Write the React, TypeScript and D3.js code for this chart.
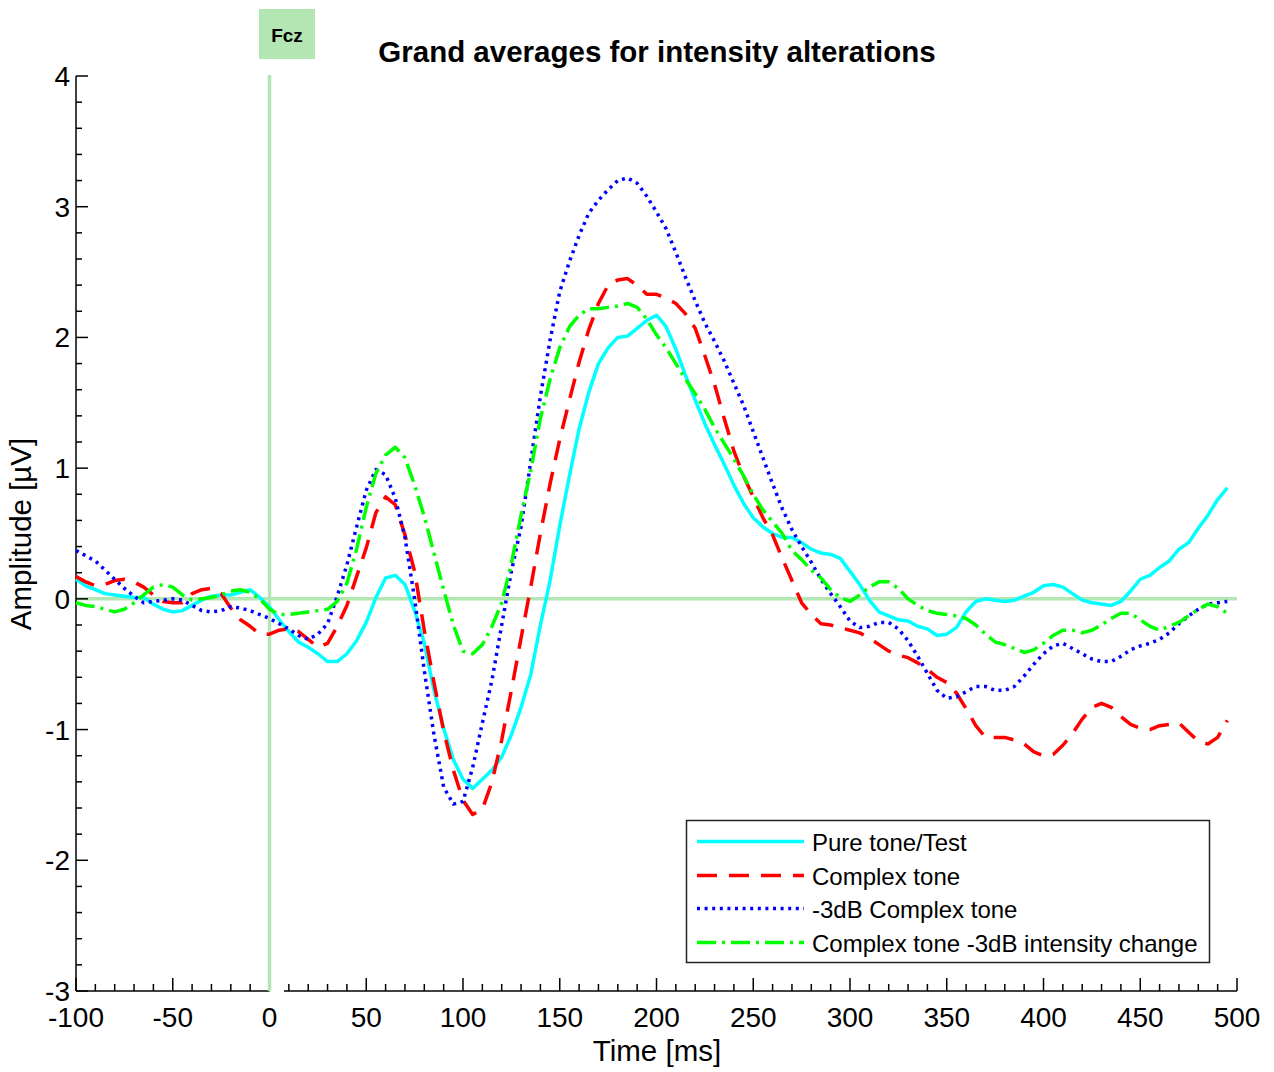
import React from "react";
import * as d3 from "d3";

// Sampling grid of the averaged epochs (ms)
const TIME_START = -100;
const TIME_STEP = 5;

// Grand-average amplitudes (µV), one value per sample
const pureTone = [
  0.15, 0.10, 0.07, 0.04, 0.03, 0.02, 0.01, 0.01, -0.04, -0.08,
  -0.10, -0.09, -0.05, -0.01, 0.02, 0.03, 0.03, 0.05, 0.07, 0.01,
  -0.06, -0.16, -0.25, -0.33, -0.37, -0.42, -0.48, -0.48, -0.42, -0.32,
  -0.18, 0.01, 0.16, 0.18, 0.11, -0.09, -0.34, -0.70, -0.99, -1.23,
  -1.38, -1.45, -1.38, -1.31, -1.21, -1.04, -0.83, -0.58, -0.20, 0.14,
  0.56, 0.94, 1.30, 1.58, 1.80, 1.92, 2.00, 2.01, 2.07, 2.13,
  2.17, 2.08, 1.91, 1.71, 1.52, 1.34, 1.18, 1.03, 0.87, 0.73,
  0.62, 0.55, 0.50, 0.47, 0.47, 0.43, 0.38, 0.35, 0.34, 0.31,
  0.21, 0.11, -0.01, -0.10, -0.13, -0.16, -0.17, -0.21, -0.23, -0.28,
  -0.27, -0.22, -0.10, -0.02, 0.00, -0.01, -0.02, -0.01, 0.02, 0.05,
  0.10, 0.11, 0.09, 0.04, -0.01, -0.03, -0.04, -0.05, -0.02, 0.06,
  0.15, 0.18, 0.24, 0.29, 0.38, 0.43, 0.54, 0.64, 0.76, 0.85,
];

const complexTone = [
  0.17, 0.13, 0.10, 0.11, 0.14, 0.15, 0.13, 0.09, 0.03, -0.02,
  -0.03, -0.03, 0.04, 0.07, 0.08, 0.04, -0.07, -0.16, -0.21, -0.27,
  -0.27, -0.24, -0.23, -0.25, -0.31, -0.37, -0.34, -0.21, -0.05, 0.17,
  0.39, 0.66, 0.78, 0.72, 0.49, 0.21, -0.24, -0.64, -1.01, -1.31,
  -1.54, -1.65, -1.61, -1.40, -1.08, -0.70, -0.30, 0.09, 0.50, 0.88,
  1.22, 1.52, 1.81, 2.06, 2.26, 2.40, 2.44, 2.45, 2.40, 2.33,
  2.33, 2.30, 2.26, 2.18, 2.07, 1.86, 1.64, 1.38, 1.13, 0.94,
  0.78, 0.62, 0.49, 0.31, 0.14, -0.03, -0.12, -0.19, -0.20, -0.22,
  -0.24, -0.26, -0.30, -0.35, -0.40, -0.43, -0.45, -0.49, -0.54, -0.60,
  -0.64, -0.72, -0.84, -0.97, -1.06, -1.06, -1.06, -1.08, -1.11, -1.17,
  -1.20, -1.19, -1.12, -1.03, -0.92, -0.83, -0.80, -0.83, -0.90, -0.96,
  -0.99, -1.00, -0.97, -0.96, -0.95, -1.02, -1.09, -1.11, -1.06, -0.93,
];

const complexToneMinus3dB = [
  0.37, 0.33, 0.29, 0.22, 0.15, 0.08, 0.02, -0.03, -0.02, -0.01,
  0.00, -0.01, -0.05, -0.09, -0.10, -0.09, -0.06, -0.07, -0.09, -0.12,
  -0.15, -0.19, -0.23, -0.28, -0.31, -0.27, -0.19, 0.02, 0.26, 0.55,
  0.83, 0.99, 0.95, 0.77, 0.47, 0.00, -0.55, -1.04, -1.44, -1.57,
  -1.55, -1.29, -0.95, -0.62, -0.20, 0.21, 0.55, 1.05, 1.55, 1.98,
  2.35, 2.58, 2.78, 2.95, 3.05, 3.13, 3.20, 3.22, 3.18, 3.08,
  2.96, 2.83, 2.65, 2.46, 2.28, 2.11, 1.97, 1.82, 1.65, 1.48,
  1.28, 1.08, 0.88, 0.69, 0.53, 0.40, 0.28, 0.15, 0.04, -0.06,
  -0.17, -0.22, -0.21, -0.18, -0.18, -0.23, -0.32, -0.44, -0.57, -0.70,
  -0.76, -0.75, -0.71, -0.67, -0.67, -0.70, -0.70, -0.67, -0.59, -0.50,
  -0.42, -0.36, -0.34, -0.38, -0.42, -0.46, -0.48, -0.48, -0.44, -0.39,
  -0.36, -0.34, -0.31, -0.26, -0.19, -0.13, -0.08, -0.04, -0.03, -0.02,
];

const intensityChange = [
  -0.03, -0.05, -0.06, -0.08, -0.10, -0.08, -0.03, 0.03, 0.09, 0.11,
  0.09, 0.03, -0.01, 0.00, 0.01, 0.03, 0.06, 0.07, 0.05, 0.00,
  -0.08, -0.12, -0.12, -0.11, -0.10, -0.09, -0.08, -0.02, 0.12, 0.38,
  0.70, 0.96, 1.10, 1.16, 1.08, 0.87, 0.63, 0.35, 0.07, -0.20,
  -0.40, -0.42, -0.35, -0.21, -0.03, 0.27, 0.64, 0.98, 1.38, 1.68,
  1.92, 2.08, 2.17, 2.22, 2.22, 2.23, 2.24, 2.26, 2.23, 2.14,
  2.02, 1.92, 1.80, 1.68, 1.57, 1.45, 1.31, 1.19, 1.07, 0.94,
  0.80, 0.68, 0.59, 0.50, 0.37, 0.30, 0.22, 0.16, 0.07, 0.01,
  -0.02, 0.03, 0.09, 0.13, 0.13, 0.08, 0.00, -0.05, -0.09, -0.11,
  -0.12, -0.13, -0.15, -0.20, -0.27, -0.33, -0.35, -0.38, -0.41, -0.39,
  -0.34, -0.28, -0.24, -0.24, -0.26, -0.24, -0.20, -0.15, -0.11, -0.11,
  -0.16, -0.21, -0.24, -0.21, -0.18, -0.13, -0.08, -0.04, -0.06, -0.11,
];

const seriesNames = [
  "Pure tone/Test",
  "Complex tone",
  "-3dB Complex tone",
  "Complex tone -3dB intensity change",
];
const seriesValues = [pureTone, complexTone, complexToneMinus3dB, intensityChange];
const seriesColors = ["#00ffff", "#ff0000", "#0000ff", "#00ff00"];
const seriesDash = [null, "20 12", "3 4.6", "19 6 3 6"];

const xMajorTicks = [-100, -50, 0, 50, 100, 150, 200, 250, 300, 350, 400, 450, 500];
const yMajorTicks = [-3, -2, -1, 0, 1, 2, 3, 4];

const titleText = "Grand averages for intensity alterations";
const channelLabel = "Fcz";
const xLabel = "Time [ms]";
const yLabel = "Amplitude [µV]";

const FONT = "'Liberation Sans', Arial, Helvetica, sans-serif";
const REF_GREEN = "#b4e6b4";

export default function App() {
  const W = 1274;
  const H = 1072;
  const x = d3.scaleLinear().domain([-100, 500]).range([76, 1237]);
  const y = d3.scaleLinear().domain([-3, 4]).range([991, 76]);
  const axisY = y(-3);
  const axisX = x(-100);

  const times = pureTone.map((_, i) => TIME_START + i * TIME_STEP);
  const line = d3
    .line<number>()
    .x((_, i) => x(times[i]))
    .y((v) => y(v));

  const xMinor = d3.range(-100, 501, 10).filter((t) => t % 50 !== 0);
  const yMinor = d3
    .range(-30, 41, 2)
    .filter((k) => k % 10 !== 0)
    .map((k) => k / 10);

  // the time axis baseline is interrupted just after stimulus onset
  const axisGapEnd = 7.5;

  const legendX = 686.5;
  const legendY = 820.5;
  const legendW = 523;
  const legendH = 142;
  const rowBase = [851, 885, 918, 952];

  return (
    <svg
      width={W}
      height={H}
      style={{ position: "absolute", left: 0, top: 0, background: "#fff" }}
      fontFamily={FONT}
    >
      <rect x={0} y={0} width={W} height={H} fill="#fff" />

      {/* zero reference lines */}
      <line x1={x(-100)} x2={x(500)} y1={y(0)} y2={y(0)} stroke={REF_GREEN} strokeWidth={3.5} />

      {/* axes */}
      <g stroke="#000" strokeWidth={1.5} fill="none">
        <line x1={axisX} x2={axisX} y1={y(4)} y2={axisY} />
        <line x1={x(-100)} x2={x(0)} y1={axisY} y2={axisY} />
        <line x1={x(axisGapEnd)} x2={x(500)} y1={axisY} y2={axisY} />
        {yMajorTicks.map((v) => (
          <line key={"ym" + v} x1={axisX} x2={axisX + 12} y1={y(v)} y2={y(v)} />
        ))}
        {yMinor.map((v) => (
          <line key={"yn" + v} x1={axisX} x2={axisX + 6} y1={y(v)} y2={y(v)} />
        ))}
        {xMajorTicks.map((t) => (
          <line key={"xm" + t} x1={x(t)} x2={x(t)} y1={axisY} y2={axisY - 13} />
        ))}
        {xMinor.map((t) => (
          <line key={"xn" + t} x1={x(t)} x2={x(t)} y1={axisY} y2={axisY - 7} />
        ))}
      </g>

      <line x1={x(0)} x2={x(0)} y1={75} y2={axisY} stroke={REF_GREEN} strokeWidth={3.5} />

      {/* tick labels */}
      <g fontSize={28} fill="#000">
        {yMajorTicks.map((v) => (
          <text key={"yl" + v} x={70} y={y(v) + 10} textAnchor="end">
            {v}
          </text>
        ))}
        {xMajorTicks.map((t) => (
          <text key={"xl" + t} x={x(t)} y={1027} textAnchor="middle">
            {t}
          </text>
        ))}
      </g>

      {/* waveforms */}
      {seriesValues.map((vals, i) => (
        <path
          key={seriesNames[i]}
          d={line(vals) || ""}
          fill="none"
          stroke={seriesColors[i]}
          strokeWidth={3.5}
          strokeDasharray={seriesDash[i] || undefined}
          strokeLinejoin="round"
        />
      ))}

      {/* titles */}
      <text x={657} y={62} textAnchor="middle" fontSize={29.5} fontWeight="bold">
        {titleText}
      </text>
      <text x={657} y={1061} textAnchor="middle" fontSize={29.5}>
        {xLabel}
      </text>
      <text transform="translate(31,534) rotate(-90)" textAnchor="middle" fontSize={29.5}>
        {yLabel}
      </text>

      {/* channel label */}
      <rect x={259} y={9} width={56} height={50} fill={REF_GREEN} />
      <text x={287} y={42} textAnchor="middle" fontSize={19} fontWeight="bold">
        {channelLabel}
      </text>

      {/* legend */}
      <rect
        x={legendX}
        y={legendY}
        width={legendW}
        height={legendH}
        fill="#fff"
        stroke="#222"
        strokeWidth={1.5}
      />
      {seriesNames.map((name, i) => (
        <g key={"lg" + i}>
          <line
            x1={697}
            x2={804}
            y1={rowBase[i] - 9.5}
            y2={rowBase[i] - 9.5}
            stroke={seriesColors[i]}
            strokeWidth={3.5}
            strokeDasharray={seriesDash[i] || undefined}
          />
          <text x={812} y={rowBase[i]} fontSize={24}>
            {name}
          </text>
        </g>
      ))}
    </svg>
  );
}
